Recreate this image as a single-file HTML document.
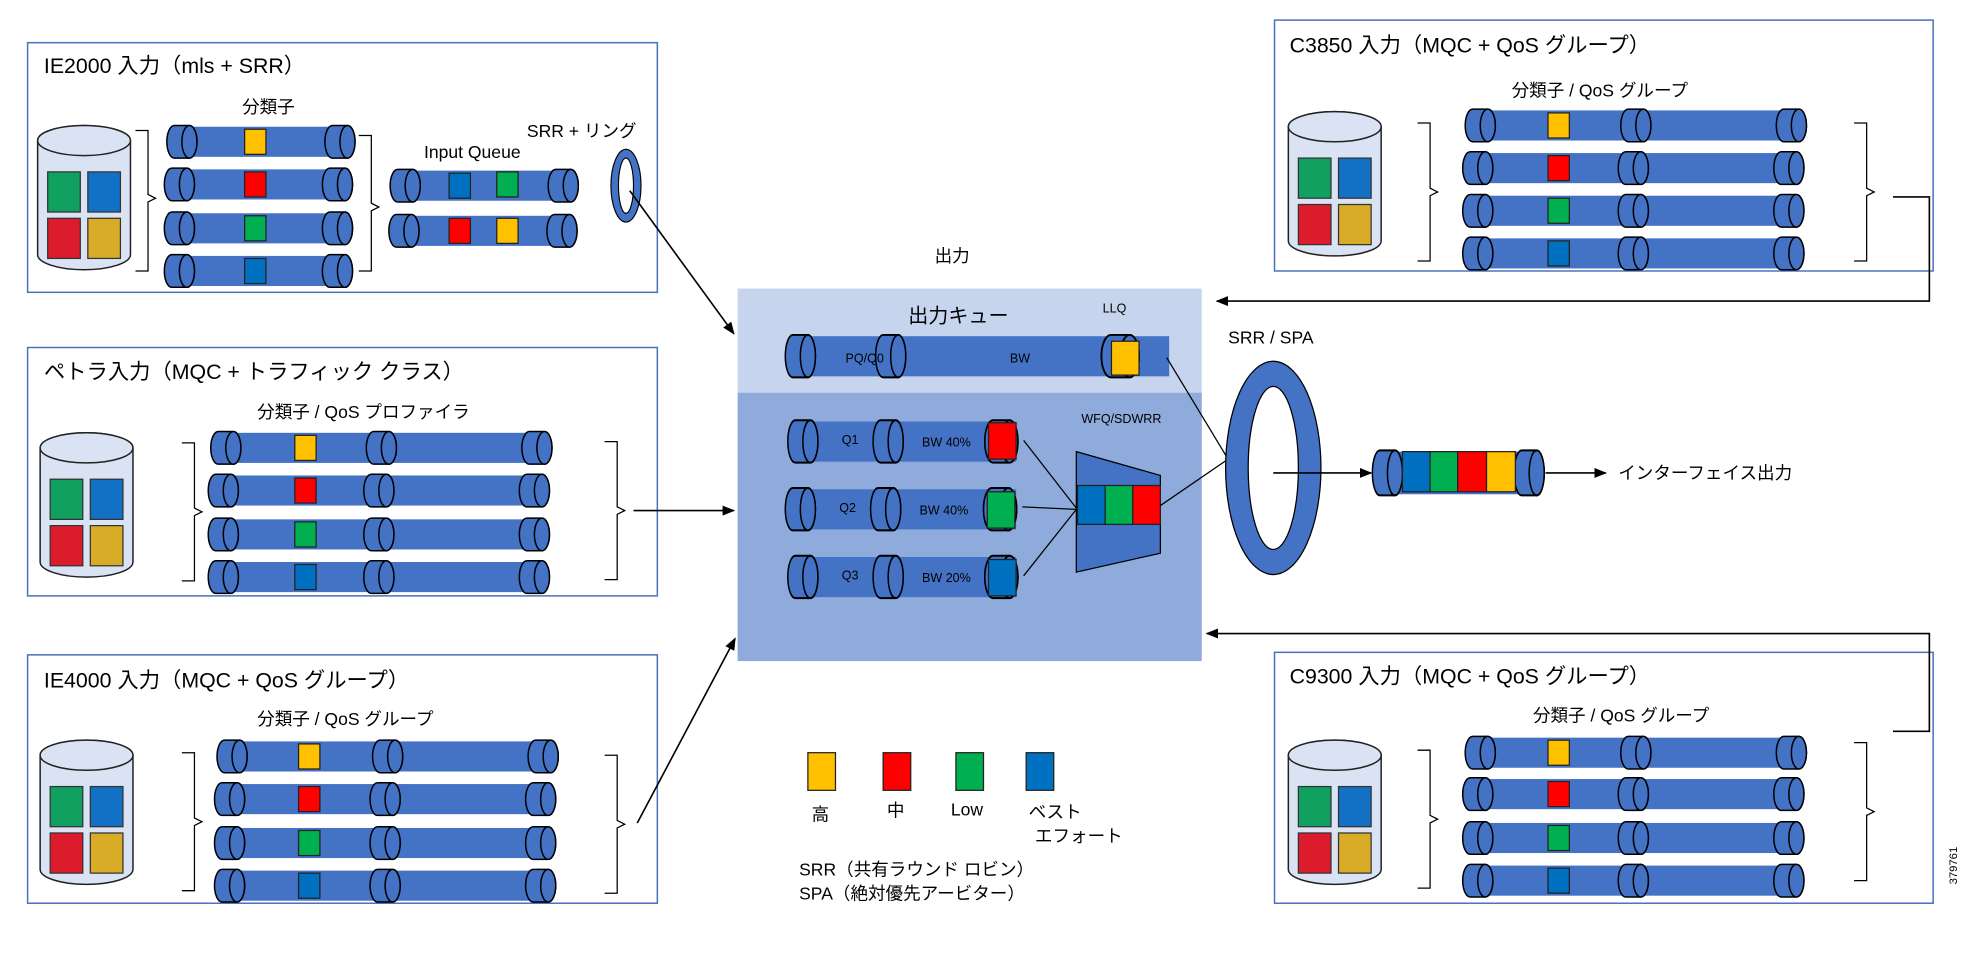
<!DOCTYPE html>
<html><head><meta charset="utf-8"><style>
html,body{margin:0;padding:0;background:#fff;width:1967px;height:974px;overflow:hidden}
svg{display:block}
text{font-family:"Liberation Sans","Noto Sans CJK JP",sans-serif;fill:#000}
</style></head><body>
<svg width="1967" height="974" viewBox="0 0 1568 776.4" xmlns="http://www.w3.org/2000/svg">
<defs>
<g id="cyl"><path d="M6,0 H18 A6,13 0 0 1 18,26 H6 A6,13 0 0 1 6,0 Z" fill="#4472c4" stroke="#000" stroke-width="1.2"/><ellipse cx="18" cy="13" rx="6" ry="13" fill="#4472c4" stroke="#000" stroke-width="1.2"/></g>
<g id="p1"><rect x="6" y="1" width="138" height="24" fill="#4472c4"/><use href="#cyl" x="0"/><use href="#cyl" x="126"/></g>
<g id="p2"><rect x="6" y="1" width="260" height="24" fill="#4472c4"/><use href="#cyl" x="0"/><use href="#cyl" x="124"/><use href="#cyl" x="248"/></g>
<g id="db"><path d="M0,12 A37,12 0 0 1 74,12 V103 A37,12 0 0 1 0,103 Z" fill="#dae3f3" stroke="#222" stroke-width="1.2"/><ellipse cx="37" cy="12" rx="37" ry="12" fill="#dae3f3" stroke="#222" stroke-width="1.2"/>
<rect x="8" y="37" width="26" height="32" fill="#10a060" stroke="#333"/><rect x="40" y="37" width="26" height="32" fill="#1271c4" stroke="#333"/><rect x="8" y="74" width="26" height="32" fill="#dc1c2c" stroke="#333"/><rect x="40" y="74" width="26" height="32" fill="#d9ac28" stroke="#333"/></g>
<marker id="ar" markerWidth="10" markerHeight="8" refX="9" refY="4" orient="auto" markerUnits="userSpaceOnUse"><path d="M0,0 L10,4 L0,8 Z" fill="#000"/></marker>
</defs>

<!-- Box 1 IE2000 -->
<rect x="22" y="34" width="502" height="199" fill="#fff" stroke="#4a72c0" stroke-width="1.2"/>
<text x="35" y="58" font-size="17">IE2000 入力（mls + SRR）</text>
<text x="193" y="90" font-size="14">分類子</text>
<use href="#db" x="30" y="100"/>
<path d="M108,104 h10 v51 l6,3 l-6,3 v55 h-10" fill="none" stroke="#000"/>
<use href="#p1" x="133" y="100"/><use href="#p1" x="131" y="134"/><use href="#p1" x="131" y="169"/><use href="#p1" x="131" y="203"/>
<rect x="195" y="103" width="17" height="20" fill="#ffc000" stroke="#222"/>
<rect x="195" y="137" width="17" height="20" fill="#ff0000" stroke="#222"/>
<rect x="195" y="172" width="17" height="20" fill="#00b050" stroke="#222"/>
<rect x="195" y="206" width="17" height="20" fill="#0070c0" stroke="#222"/>
<path d="M286,108 h10 v54 l6,3 l-6,3 v48 h-10" fill="none" stroke="#000"/>
<text x="338" y="126" font-size="14">Input Queue</text>
<text x="420" y="109" font-size="14">SRR + リング</text>
<use href="#p1" x="311" y="135"/><use href="#p1" x="310" y="171"/>
<rect x="358" y="138" width="17" height="20" fill="#0070c0" stroke="#222"/>
<rect x="396" y="137" width="17" height="20" fill="#00b050" stroke="#222"/>
<rect x="358" y="174" width="17" height="20" fill="#ff0000" stroke="#222"/>
<rect x="396" y="174" width="17" height="20" fill="#ffc000" stroke="#222"/>
<path fill-rule="evenodd" d="M487,148 a12,29 0 1 0 24,0 a12,29 0 1 0 -24,0 Z M493,148 a6,22 0 1 0 12,0 a6,22 0 1 0 -12,0 Z" fill="#4472c4" stroke="#000" stroke-width="0.9"/>
<line x1="502" y1="152" x2="585" y2="266" stroke="#000" stroke-width="1.3" marker-end="url(#ar)"/>

<!-- Box 2 Petra -->
<rect x="22" y="277" width="502" height="198" fill="#fff" stroke="#4a72c0" stroke-width="1.2"/>
<text x="35" y="302" font-size="17">ペトラ入力（MQC + トラフィック クラス）</text>
<text x="205" y="333" font-size="14">分類子 / QoS プロファイラ</text>
<use href="#db" x="32" y="345"/>
<path d="M145,353 h10 v52 l6,3 l-6,3 v52 h-10" fill="none" stroke="#000"/>
<use href="#p2" x="168" y="344"/><use href="#p2" x="166" y="378"/><use href="#p2" x="166" y="413"/><use href="#p2" x="166" y="447"/>
<rect x="235" y="347" width="17" height="20" fill="#ffc000" stroke="#222"/>
<rect x="235" y="381" width="17" height="20" fill="#ff0000" stroke="#222"/>
<rect x="235" y="416" width="17" height="20" fill="#00b050" stroke="#222"/>
<rect x="235" y="450" width="17" height="20" fill="#0070c0" stroke="#222"/>
<path d="M482,352 h10 v52 l6,3 l-6,3 v52 h-10" fill="none" stroke="#000"/>
<line x1="505" y1="407" x2="585" y2="407" stroke="#000" stroke-width="1.3" marker-end="url(#ar)"/>

<!-- Box 3 IE4000 -->
<rect x="22" y="522" width="502" height="198" fill="#fff" stroke="#4a72c0" stroke-width="1.2"/>
<text x="35" y="548" font-size="17">IE4000 入力（MQC + QoS グループ）</text>
<text x="205" y="578" font-size="14">分類子 / QoS グループ</text>
<use href="#db" x="32" y="590"/>
<path d="M145,600 h10 v52 l6,3 l-6,3 v52 h-10" fill="none" stroke="#000"/>
<use href="#p2" x="173" y="590"/><use href="#p2" x="171" y="624"/><use href="#p2" x="171" y="659"/><use href="#p2" x="171" y="693"/>
<rect x="238" y="593" width="17" height="20" fill="#ffc000" stroke="#222"/>
<rect x="238" y="627" width="17" height="20" fill="#ff0000" stroke="#222"/>
<rect x="238" y="662" width="17" height="20" fill="#00b050" stroke="#222"/>
<rect x="238" y="696" width="17" height="20" fill="#0070c0" stroke="#222"/>
<path d="M482,602 h10 v52 l6,3 l-6,3 v52 h-10" fill="none" stroke="#000"/>
<line x1="508" y1="656" x2="586" y2="509" stroke="#000" stroke-width="1.3" marker-end="url(#ar)"/>

<!-- Box 4 C3850 -->
<rect x="1016" y="16" width="525" height="200" fill="#fff" stroke="#4a72c0" stroke-width="1.2"/>
<text x="1028" y="42" font-size="17">C3850 入力（MQC + QoS グループ）</text>
<text x="1205" y="77" font-size="14">分類子 / QoS グループ</text>
<use href="#db" x="1027" y="89"/>
<path d="M1130,98 h10 v52 l6,3 l-6,3 v52 h-10" fill="none" stroke="#000"/>
<use href="#p2" x="1168" y="87"/><use href="#p2" x="1166" y="121"/><use href="#p2" x="1166" y="155"/><use href="#p2" x="1166" y="189"/>
<rect x="1234" y="90" width="17" height="20" fill="#ffc000" stroke="#222"/>
<rect x="1234" y="124" width="17" height="20" fill="#ff0000" stroke="#222"/>
<rect x="1234" y="158" width="17" height="20" fill="#00b050" stroke="#222"/>
<rect x="1234" y="192" width="17" height="20" fill="#0070c0" stroke="#222"/>
<path d="M1478,98 h10 v52 l6,3 l-6,3 v52 h-10" fill="none" stroke="#000"/>
<path d="M1509,157 H1538 V240 H970" fill="none" stroke="#000" stroke-width="1.3" marker-end="url(#ar)"/>

<!-- Box 5 C9300 -->
<rect x="1016" y="520" width="525" height="200" fill="#fff" stroke="#4a72c0" stroke-width="1.2"/>
<text x="1028" y="545" font-size="17">C9300 入力（MQC + QoS グループ）</text>
<text x="1222" y="575" font-size="14">分類子 / QoS グループ</text>
<use href="#db" x="1027" y="590"/>
<path d="M1130,598 h10 v52 l6,3 l-6,3 v52 h-10" fill="none" stroke="#000"/>
<use href="#p2" x="1168" y="587"/><use href="#p2" x="1166" y="620"/><use href="#p2" x="1166" y="655"/><use href="#p2" x="1166" y="689"/>
<rect x="1234" y="590" width="17" height="20" fill="#ffc000" stroke="#222"/>
<rect x="1234" y="623" width="17" height="20" fill="#ff0000" stroke="#222"/>
<rect x="1234" y="658" width="17" height="20" fill="#00b050" stroke="#222"/>
<rect x="1234" y="692" width="17" height="20" fill="#0070c0" stroke="#222"/>
<path d="M1478,592 h10 v52 l6,3 l-6,3 v52 h-10" fill="none" stroke="#000"/>
<path d="M1509,583 H1538 V505 H962" fill="none" stroke="#000" stroke-width="1.3" marker-end="url(#ar)"/>

<!-- Center output panel -->
<text x="745" y="209" font-size="14">出力</text>
<rect x="588" y="230" width="370" height="83" fill="#c7d4ee"/>
<rect x="588" y="313" width="370" height="214" fill="#8fabdc"/>
<text x="724" y="257" font-size="16">出力キュー</text>
<text x="879" y="249" font-size="10">LLQ</text>
<rect x="634" y="268" width="298" height="32" fill="#4472c4"/>
<g transform="translate(626,267) scale(1.0,1.3)"><use href="#cyl"/></g>
<g transform="translate(698,267) scale(1.0,1.3)"><use href="#cyl"/></g>
<g transform="translate(878,267) scale(1.25,1.3)"><use href="#cyl"/></g>
<rect x="886" y="272" width="22" height="27" fill="#ffc000" stroke="#222"/>
<text x="674" y="289" font-size="10" fill="#000">PQ/Q0</text>
<text x="805" y="289" font-size="10">BW</text>

<rect x="634" y="336" width="176" height="32" fill="#4472c4"/>
<g transform="translate(628,335) scale(1.0,1.3)"><use href="#cyl"/></g>
<g transform="translate(696,335) scale(1.0,1.3)"><use href="#cyl"/></g>
<g transform="translate(785,335) scale(1.1,1.3)"><use href="#cyl"/></g>
<rect x="788" y="337" width="22" height="29" fill="#ff0000" stroke="#222"/>
<text x="671" y="354" font-size="10">Q1</text>
<text x="735" y="356" font-size="10">BW 40%</text>

<rect x="632" y="390" width="178" height="32" fill="#4472c4"/>
<g transform="translate(626,389) scale(1.0,1.3)"><use href="#cyl"/></g>
<g transform="translate(694,389) scale(1.0,1.3)"><use href="#cyl"/></g>
<g transform="translate(784,389) scale(1.1,1.3)"><use href="#cyl"/></g>
<rect x="787" y="392" width="22" height="29" fill="#00b050" stroke="#222"/>
<text x="669" y="408" font-size="10">Q2</text>
<text x="733" y="410" font-size="10">BW 40%</text>

<rect x="634" y="444" width="176" height="32" fill="#4472c4"/>
<g transform="translate(628,443) scale(1.0,1.3)"><use href="#cyl"/></g>
<g transform="translate(696,443) scale(1.0,1.3)"><use href="#cyl"/></g>
<g transform="translate(785,443) scale(1.1,1.3)"><use href="#cyl"/></g>
<rect x="788" y="446" width="22" height="29" fill="#0070c0" stroke="#222"/>
<text x="671" y="462" font-size="10">Q3</text>
<text x="735" y="464" font-size="10">BW 20%</text>

<text x="862" y="337" font-size="10">WFQ/SDWRR</text>
<path d="M858,360 L925,379 V441 L858,456 Z" fill="#4472c4" stroke="#000" stroke-width="1"/>
<rect x="859" y="387" width="22" height="31" fill="#0070c0" stroke="#222"/>
<rect x="881" y="387" width="22" height="31" fill="#00b050" stroke="#222"/>
<rect x="903" y="387" width="22" height="31" fill="#ff0000" stroke="#222"/>
<g stroke="#000" stroke-width="1" fill="none">
<line x1="816" y1="351" x2="858" y2="405"/>
<line x1="815" y1="404" x2="858" y2="406"/>
<line x1="816" y1="459" x2="858" y2="406"/>
<line x1="925" y1="403" x2="979" y2="366"/>
<line x1="930" y1="285" x2="979" y2="366"/>
</g>

<!-- big ring -->
<text x="979" y="274" font-size="14">SRR / SPA</text>
<path fill-rule="evenodd" d="M977,373 a38,85 0 1 0 76,0 a38,85 0 1 0 -76,0 Z M995,373 a20,65 0 1 0 40,0 a20,65 0 1 0 -40,0 Z" fill="#4472c4" stroke="#000" stroke-width="1"/>
<line x1="1015" y1="377" x2="1093" y2="377" stroke="#000" stroke-width="1.3" marker-end="url(#ar)"/>
<rect x="1100" y="360" width="128" height="34" fill="#4472c4"/>
<g transform="translate(1094,359) scale(1.0,1.38)"><use href="#cyl"/></g>
<g transform="translate(1207,359) scale(1.0,1.38)"><use href="#cyl"/></g>
<rect x="1118" y="360" width="22" height="32" fill="#0070c0" stroke="#222"/>
<rect x="1140" y="360" width="22" height="32" fill="#00b050" stroke="#222"/>
<rect x="1162" y="360" width="23" height="32" fill="#ff0000" stroke="#222"/>
<rect x="1185" y="360" width="23" height="32" fill="#ffc000" stroke="#222"/>
<line x1="1232" y1="377" x2="1280" y2="377" stroke="#000" stroke-width="1.3" marker-end="url(#ar)"/>
<text x="1290" y="382" font-size="14">インターフェイス出力</text>

<!-- legend -->
<rect x="644" y="600" width="22" height="30" fill="#ffc000" stroke="#222"/>
<rect x="704" y="600" width="22" height="30" fill="#ff0000" stroke="#222"/>
<rect x="762" y="600" width="22" height="30" fill="#00b050" stroke="#222"/>
<rect x="818" y="600" width="22" height="30" fill="#0070c0" stroke="#222"/>
<text x="647" y="654" font-size="14">高</text>
<text x="707" y="651" font-size="14">中</text>
<text x="758" y="650" font-size="14">Low</text>
<text x="820" y="652" font-size="14">ベスト</text>
<text x="825" y="671" font-size="14">エフォート</text>
<text x="637" y="698" font-size="14">SRR（共有ラウンド ロビン）</text>
<text x="637" y="717" font-size="14">SPA（絶対優先アービター）</text>
<text transform="translate(1560,705) rotate(-90)" font-size="9">379761</text>
</svg>
</body></html>
